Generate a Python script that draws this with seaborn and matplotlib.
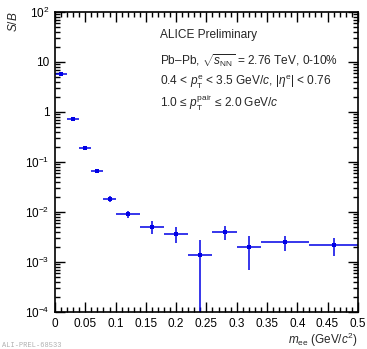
import numpy as np
import pandas as pd
import seaborn as sns
import matplotlib
matplotlib.use("Agg")
import matplotlib.pyplot as plt
from matplotlib.ticker import FixedLocator, FixedFormatter, MultipleLocator, LogLocator, NullFormatter

# Invariant-mass bins (GeV/c^2) and signal-to-background ratio
bin_lo = [0.00, 0.02, 0.04, 0.06, 0.08, 0.10, 0.14, 0.18, 0.22, 0.26, 0.30, 0.34, 0.42]
bin_hi = [0.02, 0.04, 0.06, 0.08, 0.10, 0.14, 0.18, 0.22, 0.26, 0.30, 0.34, 0.42, 0.50]
s_over_b = [5.8, 0.71, 0.193, 0.065, 0.0185, 0.0090, 0.0051, 0.0037, 0.00136,
            0.0040, 0.0020, 0.0025, 0.00216]
s_over_b_err = [0.25, 0.03, 0.015, 0.005, 0.0025, 0.0015, 0.0014, 0.0013, 0.0014,
                0.0012, 0.0013, 0.00085, 0.00085]

x_ticks = [0, 0.05, 0.1, 0.15, 0.2, 0.25, 0.3, 0.35, 0.4, 0.45, 0.5]
x_tick_labels = ["0", "0.05", "0.1", "0.15", "0.2", "0.25", "0.3", "0.35", "0.4", "0.45", "0.5"]
y_ticks = [1e-4, 1e-3, 1e-2, 1e-1, 1, 10, 100]
y_tick_labels = [r"$10^{-4}$", r"$10^{-3}$", r"$10^{-2}$", r"$10^{-1}$", "1", "10", r"$10^{2}$"]

df = pd.DataFrame({"lo": bin_lo, "hi": bin_hi, "sb": s_over_b, "err": s_over_b_err})
df["mee"] = 0.5 * (df["lo"] + df["hi"])
df["xerr"] = 0.5 * (df["hi"] - df["lo"])
df["err_lo"] = np.minimum(df["err"], df["sb"] * 0.9999)

sns.set_theme(style="ticks")
main_font = "Liberation Sans"
plt.rcParams["font.family"] = [main_font, "DejaVu Sans"]
plt.rcParams["mathtext.fontset"] = "custom"
plt.rcParams["mathtext.rm"] = main_font
plt.rcParams["mathtext.it"] = main_font + ":italic"
plt.rcParams["mathtext.bf"] = main_font + ":bold"

fig = plt.figure(figsize=(3.67, 3.49), dpi=100)
ax = fig.add_axes([0.150, 0.106, 0.825, 0.860])

blue = "#0000e6"
ax.errorbar(df["mee"], df["sb"], xerr=df["xerr"], yerr=[df["err_lo"], df["err"]],
            fmt="none", ecolor=blue, elinewidth=1.1, capsize=0, zorder=2)
sns.scatterplot(data=df, x="mee", y="sb", marker="s", s=9, color=blue,
                edgecolor=blue, linewidth=0, ax=ax, zorder=3, legend=False)

ax.set_yscale("log")
ax.set_xlim(0, 0.5)
ax.set_ylim(1e-4, 1e2)

ax.xaxis.set_major_locator(FixedLocator(x_ticks))
ax.xaxis.set_major_formatter(FixedFormatter(x_tick_labels))
ax.xaxis.set_minor_locator(MultipleLocator(0.01))
ax.yaxis.set_major_locator(FixedLocator(y_ticks))
ax.yaxis.set_major_formatter(FixedFormatter(y_tick_labels))
ax.yaxis.set_minor_locator(LogLocator(base=10, subs=np.arange(2, 10), numticks=20))
ax.yaxis.set_minor_formatter(NullFormatter())

for s in ax.spines.values():
    s.set_linewidth(1.2)
    s.set_color("black")
ax.tick_params(which="both", direction="in", top=True, right=True, colors="black",
               labelsize=8.5, width=1.0)
ax.tick_params(which="major", length=7, pad=4)
ax.tick_params(which="minor", length=3.5)

ax.set_xlabel(r"$m_{\rm ee}$ (GeV/$c^{2}$)", fontsize=8.5, loc="right", labelpad=1)
ax.set_ylabel(r"$S/B$", fontsize=8.5, loc="top", labelpad=4)

txt = dict(transform=ax.transAxes, fontsize=8.6, ha="left", va="center")
ax.text(0.345, 0.922, "ALICE Preliminary", **txt)
ax.text(0.345, 0.838, r"Pb–Pb, $\sqrt{s_{\rm NN}}$ = 2.76 TeV, 0-10%", **txt)
ax.text(0.345, 0.766, r"0.4 < $p_{\rm T}^{\rm e}$ < 3.5 GeV/$c$, |$\eta^{\rm e}$| < 0.76", **txt)
ax.text(0.345, 0.696, r"1.0 ≤ $p_{\rm T}^{\rm pair}$ ≤ 2.0 GeV/$c$", **txt)

fig.text(0.005, 0.001, "ALI-PREL-68533", fontsize=5, color="#b0b0b0",
         family=["Liberation Mono", "DejaVu Sans Mono"], ha="left", va="bottom")

fig.savefig("out.png", dpi=100)
